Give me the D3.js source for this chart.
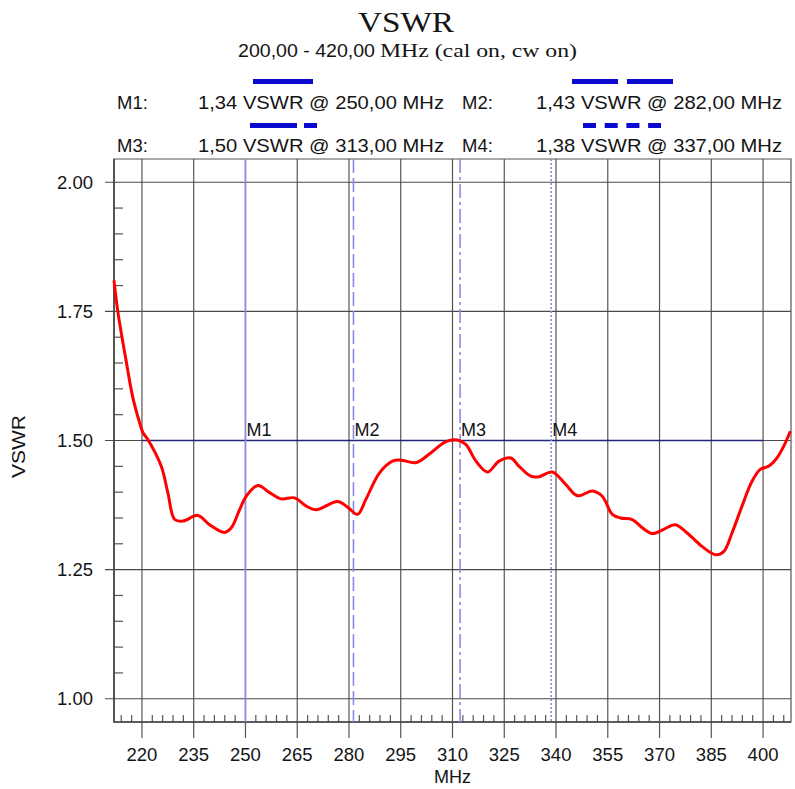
<!DOCTYPE html>
<html>
<head>
<meta charset="utf-8">
<script src="https://cdn.jsdelivr.net/npm/d3@7"></script>
<style>
  body { margin: 0; background: #fff; }
  text { font-family: "Liberation Sans", Arial, sans-serif; fill: #141414; }
  .serif { font-family: "Liberation Serif", "Times New Roman", serif; }
</style>
</head>
<body>
<svg id="chart" width="795" height="789"></svg>
<script>

// trace (MHz, VSWR)
let freqs = [211.9, 213, 215.5, 217.3, 219.3, 220.3, 221.7, 225.6, 227.5, 229.5,
  231.9, 236.2, 239.6, 243.9, 245.9, 248.3, 250.2, 253.6, 257, 260.3,
  264.2, 267.6, 270.5, 276.7, 279.6, 282.5, 284.9, 288.8, 292.6, 295.1,
  299.4, 303.5, 308.1, 311.4, 313.9, 316.8, 320.1, 323.5, 326.9, 329.3,
  332.7, 335.1, 338.9, 342.8, 346.2, 350.5, 353.4, 356.3, 358.7, 362.1,
  365, 367.9, 371.2, 374.6, 378, 382.3, 386.2, 388.6, 391, 393.9,
  396.8, 399.2, 401.6, 404, 406, 407.9]
let vswr = [1.81, 1.75, 1.651, 1.585, 1.535, 1.515, 1.502, 1.450, 1.399, 1.347,
  1.344, 1.355, 1.337, 1.322, 1.331, 1.366, 1.392, 1.413, 1.399, 1.387,
  1.389, 1.373, 1.366, 1.382, 1.371, 1.357, 1.386, 1.437, 1.460, 1.462,
  1.457, 1.475, 1.498, 1.501, 1.492, 1.460, 1.439, 1.460, 1.466, 1.450,
  1.431, 1.430, 1.439, 1.415, 1.393, 1.402, 1.392, 1.357, 1.350, 1.347,
  1.331, 1.320, 1.328, 1.337, 1.321, 1.295, 1.279, 1.285, 1.321, 1.373,
  1.421, 1.444, 1.450, 1.466, 1.489, 1.518]

let x_ticks = [220, 235, 250, 265, 280, 295, 310, 325, 340, 355, 370, 385, 400]
let y_ticks = [1.00, 1.25, 1.50, 1.75, 2.00]

let marker_names = ["M1", "M2", "M3", "M4"]
let marker_vswr = ["1,34", "1,43", "1,50", "1,38"]
let marker_freq = ["250,00", "282,00", "313,00", "337,00"]
// where the marker lines sit on the trace in the picture
let marker_at = [250, 281.3, 312.2, 338.6]

let ref_level = 1.50,
    ref_span = [220, 400]

let height = 789,
    width = 795,
    margins = {left: 114, right: 4, top: 159, bottom: 67};

function make_scales() {
  return {
    x: d3.scaleLinear()
      .domain([211.9, 408.1])
      .range([margins.left, width - margins.right]),
    y: d3.scaleLinear()
      .domain([0.955, 2.045])
      .range([height - margins.bottom, margins.top])
  }
}

let styles = {
  M1: {legend: null, trace: null},
  M2: {legend: "46,9", trace: "14,5"},
  M3: {legend: "47,7,13,7", trace: "14,4,3,4"},
  M4: {legend: "13,8.7", trace: "2,2"}
}

function draw_header(svg) {
  svg.append("text").attr("class", "serif")
    .attrs({x: 358, y: 32, "font-size": 30, textLength: 96, lengthAdjust: "spacingAndGlyphs"})
    .text("VSWR")
  svg.append("text")
    .attrs({x: 238, y: 57, "font-size": 18, textLength: 137, lengthAdjust: "spacingAndGlyphs"})
    .text("200,00 -  420,00")
  svg.append("text").attr("class", "serif")
    .attrs({x: 380, y: 57, "font-size": 18, textLength: 197, lengthAdjust: "spacingAndGlyphs"})
    .text("MHz (cal on, cw on)")

  let cols = [{name: 117, val: 198, bar: 253}, {name: 462, val: 536, bar: 572}],
      rows = [{base: 109, bar: 81.5}, {base: 152, bar: 125.5}],
      bar_len = [60, 101, 67, 78],
      bar_shift = [0, 0, -3, 11]

  marker_names.forEach((m, i) => {
    let c = cols[i % 2], r = rows[Math.floor(i / 2)]
    svg.append("text")
      .attrs({x: c.name, y: r.base, "font-size": 18.5})
      .text(m + ":")
    svg.append("text")
      .attrs({x: c.val, y: r.base, "font-size": 18.5, textLength: 246, lengthAdjust: "spacingAndGlyphs"})
      .text(`${marker_vswr[i]} VSWR @ ${marker_freq[i]} MHz`)
    svg.append("line")
      .attrs({
        x1: c.bar + bar_shift[i], x2: c.bar + bar_shift[i] + bar_len[i],
        y1: r.bar, y2: r.bar,
        stroke: "#0a0ad0", "stroke-width": 5,
        "stroke-dasharray": styles[m].legend
      })
  })
}

function draw_plot(svg, scales) {
  let x = scales.x, y = scales.y
  let top = margins.top, bottom = height - margins.bottom,
      left = margins.left, right = width - margins.right

  // vertical grid, runs past the bottom axis
  svg.append("g").selectAll("line")
    .data(x_ticks).enter()
    .append("line")
    .attrs({x1: d => x(d), x2: d => x(d), y1: top, y2: bottom + 16,
      stroke: "#555", "stroke-width": 1.2})

  // horizontal grid with outward major ticks
  svg.append("g").selectAll("line")
    .data(y_ticks).enter()
    .append("line")
    .attrs({x1: left - 9, x2: right, y1: d => y(d), y2: d => y(d),
      stroke: "#4a4a4a", "stroke-width": 1.2})

  // minor ticks
  let y_minor = d3.range(1.05, 2.0, 0.05).filter(d => Math.abs(d * 4 - Math.round(d * 4)) > 0.01)
  svg.append("g").selectAll("line")
    .data(y_minor).enter()
    .append("line")
    .attrs({x1: left, x2: left + 9, y1: d => y(d), y2: d => y(d),
      stroke: "#555", "stroke-width": 1.2})

  let x_minor = d3.range(214, 408, 3).filter(d => (d - 220) % 15 != 0)
  svg.append("g").selectAll("line")
    .data(x_minor).enter()
    .append("line")
    .attrs({x1: d => x(d), x2: d => x(d), y1: bottom - 7, y2: bottom,
      stroke: "#555", "stroke-width": 1.2})

  // frame
  svg.append("path")
    .attr("d", `M${left},${top}H${right}V${bottom}H${left}Z`)
    .attrs({fill: "none", stroke: "#555", "stroke-width": 1.2})
  svg.append("path")
    .attr("d", `M${left},${top}V${bottom}H${right}`)
    .attrs({fill: "none", stroke: "#444", "stroke-width": 1.6})

  // tick labels
  svg.append("g").selectAll("text")
    .data(x_ticks).enter()
    .append("text")
    .attrs({x: d => x(d), y: 761, "text-anchor": "middle", "font-size": 18.5})
    .text(d => d)
  svg.append("g").selectAll("text")
    .data(y_ticks).enter()
    .append("text")
    .attrs({x: 93, y: d => y(d) + 6.5, "text-anchor": "end", "font-size": 18.5})
    .text(d => d3.format(".2f")(d))

  // axis titles
  svg.append("text")
    .attrs({x: (left + right) / 2, y: 783, "text-anchor": "middle", "font-size": 18})
    .text("MHz")
  svg.append("text")
    .attrs({transform: "translate(25,478) rotate(-90)", "font-size": 18,
      textLength: 63, lengthAdjust: "spacingAndGlyphs"})
    .text("VSWR")

  // reference level
  svg.append("line")
    .attrs({x1: x(ref_span[0]), x2: x(ref_span[1]), y1: y(ref_level), y2: y(ref_level),
      stroke: "#26267a", "stroke-width": 1.5})

  // marker lines and names
  marker_names.forEach((m, i) => {
    svg.append("line")
      .attrs({x1: x(marker_at[i]), x2: x(marker_at[i]), y1: top, y2: bottom,
        stroke: "#8a8aea", "stroke-width": 1.6,
        "stroke-dasharray": styles[m].trace})
    svg.append("text")
      .attrs({x: x(marker_at[i]) + 1, y: 436, "font-size": 18})
      .text(m)
  })

  // trace
  let line = d3.line()
    .x(d => x(d[0]))
    .y(d => y(d[1]))
    .curve(d3.curveCatmullRom.alpha(0.5))
  svg.append("path")
    .datum(d3.zip(freqs, vswr))
    .attrs({d: line, fill: "none", stroke: "#ff0000", "stroke-width": 3,
      "stroke-linejoin": "round"})
}

// d3 v7 has no .attrs, small helper
d3.selection.prototype.attrs = function (obj) {
  for (let k in obj) {
    if (obj[k] !== null && obj[k] !== undefined) this.attr(k, obj[k])
  }
  return this
}

let svg = d3.select("#chart")
let scales = make_scales()
draw_plot(svg, scales)
draw_header(svg)

</script>
</body>
</html>
